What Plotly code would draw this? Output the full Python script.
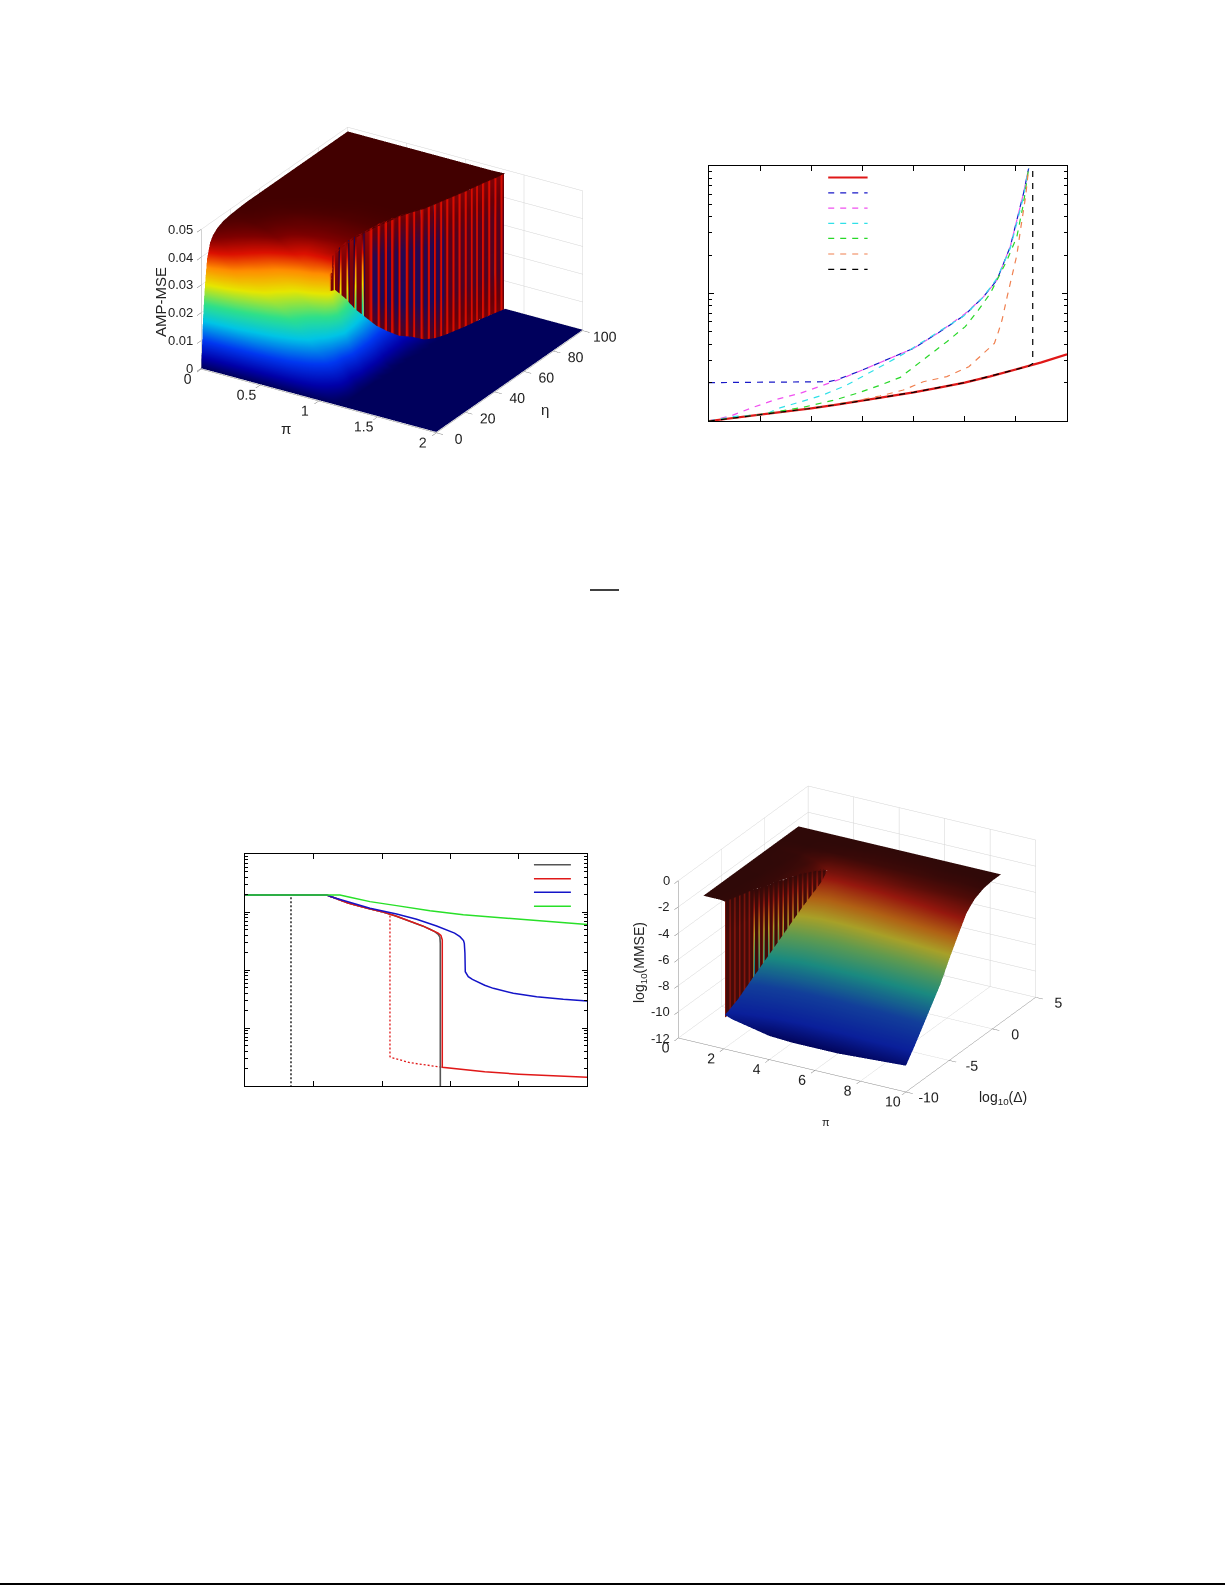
import numpy as np
import plotly.graph_objects as go

# ---------- top-left surface: AMP-MSE (values in units of 0.001) ----------
amp_eta = [0, .5, 1, 2, 3, 4, 6, 8, 11, 15, 20, 24, 28, 32, 36, 40, 45, 50, 55, 60, 65, 70, 75, 80, 85, 90, 95, 100]
# pi of the seam between the high and the low sheet, for each eta (the wall sits on it from eta = 20)
amp_seam_pi = [.84, .84, .84, .84, .84, .84, .84, .84, .84, .84, .84, .84, .875, .91, .95, .99, 1.03, 1.06, 1.105, 1.15,
               1.175, 1.2, 1.225, 1.25, 1.27, 1.29, 1.315, 1.34]
# high sheet: columns at these fractions of the seam pi
amp_high_frac = [0, .12, .24, .36, .48, .6, .72, .84, .92, 1]
amp_high_milli = [
    [0, 0, 0, 0, 0, 0, 0, 0, 0, 0],
    [7, 6, 5.2, 4.6, 4, 3.5, 3, 2.5, 2.1, 1.7],
    [15, 13, 11, 9.5, 8.3, 7, 6, 5, 4.2, 3.5],
    [25, 21, 18, 16, 14, 12, 10, 8.5, 7, 5.9],
    [32, 27, 23, 20, 17, 15, 13, 11, 9.2, 7.8],
    [38, 33, 28, 24, 21, 18, 15.5, 13, 11, 9.4],
    [43, 39, 35, 30, 26.5, 23.5, 20, 17, 14.8, 12.6],
    [45, 42, 38, 33, 30, 27, 24.5, 21, 18, 15.6],
    [46.5, 44, 41, 37, 33, 29, 26, 23, 20, 17.6],
    [47.5, 46, 44, 41, 37, 33, 29, 26, 24, 21.6],
    [48, 47.5, 47, 46, 44, 41, 38, 36, 33, 30],
    [48.2, 48, 47.5, 46.5, 45, 43, 41, 41, 41.5, 42],
    [48.4, 48.2, 47.8, 47, 46, 45, 44, 43.5, 43.5, 44],
    [48.5, 48.3, 48, 47.5, 46.5, 46, 45.5, 45.5, 45.5, 45.5],
    [48.5, 48.4, 48.2, 48, 47.5, 47, 46.5, 46.5, 46.5, 46.5],
    [48.5, 48.5, 48.4, 48.2, 48, 47.8, 47.5, 47.5, 47.5, 47.5],
    [48.5, 48.5, 48.5, 48.4, 48.3, 48.2, 48, 48, 48, 48],
    [48.5, 48.5, 48.5, 48.5, 48.5, 48.4, 48.3, 48.3, 48.3, 48.3],
    [48.5, 48.5, 48.5, 48.5, 48.5, 48.5, 48.5, 48.5, 48.5, 48.5],
    [48.5, 48.5, 48.5, 48.5, 48.5, 48.5, 48.5, 48.5, 48.5, 48.5],
    [48.5, 48.5, 48.5, 48.5, 48.5, 48.5, 48.5, 48.5, 48.5, 48.5],
    [48.5, 48.5, 48.5, 48.5, 48.5, 48.5, 48.5, 48.5, 48.5, 48.5],
    [48.5, 48.5, 48.5, 48.5, 48.5, 48.5, 48.5, 48.5, 48.5, 48.5],
    [48.5, 48.5, 48.5, 48.5, 48.5, 48.5, 48.5, 48.5, 48.5, 48.5],
    [48.5, 48.5, 48.5, 48.5, 48.5, 48.5, 48.5, 48.5, 48.5, 48.5],
    [48.5, 48.5, 48.5, 48.5, 48.5, 48.5, 48.5, 48.5, 48.5, 48.5],
    [48.5, 48.5, 48.5, 48.5, 48.5, 48.5, 48.5, 48.5, 48.5, 48.5],
    [48.5, 48.5, 48.5, 48.5, 48.5, 48.5, 48.5, 48.5, 48.5, 48.7],
]
# low sheet: columns at these offsets past the seam; the last one reaches pi = 2
amp_low_offset = [0, .05, .1, .15, .2, .25, .3, .35]
amp_low_milli = [
    [0, 0, 0, 0, 0, 0, 0, 0, 0],
    [1.7, 1.3, 1, .7, .4, .2, 0, 0, 0],
    [3.5, 2.8, 2.2, 1.6, 1, .5, .1, 0, 0],
    [5.9, 4.9, 3.9, 2.9, 1.9, 1, .3, 0, 0],
    [7.8, 6.5, 5.2, 3.9, 2.6, 1.4, .4, 0, 0],
    [9.4, 8, 6.5, 4.9, 3.3, 1.9, .5, 0, 0],
    [12.6, 10.9, 8.9, 6.9, 4.9, 2.9, 1, 0, 0],
    [15.6, 13.4, 11.4, 9, 6.5, 4, 1.5, 0, 0],
    [17.6, 15.5, 13, 10.6, 7.6, 4.6, 1.8, 0, 0],
    [21.6, 19.4, 15.8, 11.8, 7.8, 4.2, 1.4, 0, 0],
    [30, 25, 20, 15, 10, 5.8, 2, 0, 0],
    [29, 24.5, 19.5, 14.5, 10, 5.5, 2, 0, 0],
    [25, 20, 15.5, 11, 7, 3, .3, 0, 0],
    [20, 16, 12, 8, 4, .8, 0, 0, 0],
    [16, 12, 8, 4, .8, 0, 0, 0, 0],
    [12, 8, 4.5, 1.5, 0, 0, 0, 0, 0],
    [8.5, 5, 2, 0, 0, 0, 0, 0, 0],
    [5.5, 3, .8, 0, 0, 0, 0, 0, 0],
    [3.8, 1.2, 0, 0, 0, 0, 0, 0, 0],
    [1.5, 0, 0, 0, 0, 0, 0, 0, 0],
    [.4, 0, 0, 0, 0, 0, 0, 0, 0],
    [0, 0, 0, 0, 0, 0, 0, 0, 0],
    [0, 0, 0, 0, 0, 0, 0, 0, 0],
    [0, 0, 0, 0, 0, 0, 0, 0, 0],
    [0, 0, 0, 0, 0, 0, 0, 0, 0],
    [0, 0, 0, 0, 0, 0, 0, 0, 0],
    [0, 0, 0, 0, 0, 0, 0, 0, 0],
    [0, 0, 0, 0, 0, 0, 0, 0, 0],
]
# the discontinuity ("wall") of the AMP-MSE surface, read along its length
amp_wall_eta = [20, 22, 24, 26, 28, 30, 32, 34, 36, 38, 40, 42, 44, 46, 48, 50, 52, 54, 56, 58, 60, 62, 64, 66, 68, 70,
                72, 74, 76, 78, 80, 82, 84, 86, 88, 90, 92, 94, 96, 98]
amp_wall_pi = [.84, .84, .84, .857, .875, .893, .91, .93, .95, .97, .99, 1.005, 1.02, 1.03, 1.05, 1.06, 1.08, 1.1, 1.11, 1.13, 1.15,
               1.16, 1.17, 1.18, 1.19, 1.2, 1.21, 1.22, 1.23, 1.24, 1.25, 1.26, 1.265, 1.27, 1.28, 1.29, 1.3, 1.31, 1.32, 1.33]
amp_wall_foot = [30, 29.5, 29, 27, 25, 22.5, 20, 18, 16, 14, 12, 11, 9.5, 8.5, 7, 5.5, 5, 4, 3.5, 2, 1.5, 1, .5, .2, 0, 0,
                 0, 0, 0, 0, 0, 0, 0, 0, 0, 0, 0, 0, 0, 0]
amp_wall_top = [36, 42, 43, 44, 45, 45.5, 46, 46.5, 47, 47.5, 48, 48.2, 48.2, 48.3, 48.4, 48.5, 48.5, 48.5, 48.5, 48.5, 48.5,
                48.5, 48.5, 48.5, 48.5, 48.5, 48.5, 48.5, 48.5, 48.5, 48.5, 48.5, 48.5, 48.5, 48.5, 48.5, 48.5, 48.5, 48.5, 48.7]

# ---------- bottom-right surface: log10(MMSE) ----------
mmse_logdelta = [-10, -9, -8, -7, -6, -5, -4, -3, -2.5, -2, -1, 0, 1]
mmse_seam_pi = [2.05, 2.24, 2.42, 2.61, 2.8, 2.98, 3.17, 3.36, 3.45, 3.5, 3.5, 3.5, 3.5]
mmse_pi_start = 1.1
mmse_high_frac = [0, .5, .8, 1]
mmse_high = [
    [-.7, -.7, -.7, -.75],
    [-.7, -.7, -.72, -.75],
    [-.7, -.7, -.72, -.75],
    [-.7, -.7, -.75, -.8],
    [-.7, -.7, -.78, -.85],
    [-.7, -.72, -.8, -.95],
    [-.7, -.72, -.85, -1.05],
    [-.7, -.75, -.9, -1.25],
    [-.7, -.75, -1, -1.45],
    [-.7, -.8, -1.1, -1.6],
    [-.7, -.7, -.75, -.8],
    [-.7, -.7, -.7, -.7],
    [-.7, -.7, -.7, -.7],
]
# low sheet columns: seam, seam + 0.3, then these fixed pi values
mmse_low_pi = [4, 5, 6, 7, 8, 9, 10]
mmse_low = [
    [-9.4, -9.6, -10.2, -10.3, -10.3, -10.3, -10.2, -10.1, -10],
    [-8.6, -8.75, -9.1, -9.2, -9.2, -9.2, -9.1, -9.1, -9],
    [-7.6, -7.8, -8.1, -8.2, -8.2, -8.1, -8.1, -8, -7.9],
    [-6.6, -6.75, -7, -7.1, -7.1, -7.1, -7, -6.9, -6.8],
    [-5.6, -5.75, -6, -6, -6, -6, -5.9, -5.8, -5.7],
    [-4.6, -4.75, -4.9, -5, -4.9, -4.8, -4.7, -4.5, -4.3],
    [-3.6, -3.75, -3.9, -3.9, -3.8, -3.6, -3.4, -3.2, -3],
    [-2.7, -2.8, -2.9, -2.8, -2.7, -2.5, -2.3, -2, -1.75],
    [-2.25, -2.35, -2.4, -2.3, -2.2, -2, -1.8, -1.6, -1.4],
    [-1.6, -1.65, -1.7, -1.7, -1.6, -1.4, -1.3, -1.2, -1.1],
    [-.8, -.82, -.85, -.9, -.9, -.9, -.85, -.85, -.8],
    [-.7, -.7, -.72, -.75, -.75, -.75, -.72, -.72, -.7],
    [-.7, -.7, -.7, -.7, -.7, -.7, -.7, -.7, -.7],
]
mmse_wall_logdelta = [-10, -9.75, -9.5, -9.25, -9, -8.75, -8.5, -8.25, -8, -7.75, -7.5, -7.25, -7, -6.75, -6.5, -6.25, -6,
                      -5.75, -5.5, -5.25, -5, -4.75, -4.5, -4.25, -4, -3.75, -3.5, -3.25, -3, -2.75, -2.5, -2.25]
mmse_wall_pi = [2.05, 2.1, 2.14, 2.19, 2.24, 2.28, 2.33, 2.38, 2.42, 2.47, 2.52, 2.56, 2.61, 2.66, 2.7, 2.75, 2.8, 2.84, 2.89,
                2.94, 2.98, 3.03, 3.08, 3.13, 3.17, 3.22, 3.27, 3.31, 3.36, 3.41, 3.45, 3.48]
mmse_wall_foot = [-9.4, -9.2, -9, -8.8, -8.6, -8.35, -8.1, -7.85, -7.6, -7.35, -7.1, -6.85, -6.6, -6.35, -6.1, -5.85, -5.6,
                  -5.35, -5.1, -4.85, -4.6, -4.35, -4.1, -3.85, -3.6, -3.35, -3.1, -2.9, -2.7, -2.5, -2.25, -1.95]
mmse_wall_top = [-.75, -.75, -.75, -.75, -.75, -.75, -.75, -.75, -.75, -.78, -.8, -.8, -.8, -.82, -.85, -.85, -.85, -.9, -.95,
                 -.95, -.95, -1, -1, -1, -1.05, -1.1, -1.15, -1.2, -1.25, -1.35, -1.45, -1.52]

# ---------- top-right panel curves (x, log10 y) ----------
tr_red_x = [0, .5, 1, 1.5, 2, 2.5, 3, 3.5, 4, 4.5, 5, 5.5, 6, 6.5, 7]
tr_red_y = [-2, -1.975, -1.953, -1.927, -1.901, -1.872, -1.841, -1.809, -1.775, -1.738, -1.699, -1.65, -1.595, -1.54, -1.477]
tr_blue_x = [0, 2.33, 2.49, 3, 3.54, 4, 4.52, 5, 5.37, 5.63, 5.89, 6.15, 6.25]
tr_blue_y = [-1.699, -1.692, -1.678, -1.6, -1.508, -1.43, -1.299, -1.169, -1.025, -.894, -.633, -.214, -.018]
tr_mag_x = [0, .44, .86, 1.32, 1.78, 2.23, 2.56, 3, 3.54, 4, 4.52, 5, 5.37, 5.63, 5.89, 6.15, 6.25]
tr_mag_y = [-2, -1.958, -1.893, -1.83, -1.783, -1.718, -1.673, -1.6, -1.508, -1.43, -1.299, -1.161, -1.025, -.894, -.633, -.214, -.018]
tr_cyan_x = [0, .47, 1.12, 1.35, 1.58, 2, 2.23, 2.43, 2.66, 3.02, 3.47, 3.8, 4.13, 4.59, 4.98, 5.37, 5.63, 5.89, 6.15, 6.25]
tr_cyan_y = [-2, -1.966, -1.945, -1.901, -1.875, -1.822, -1.796, -1.762, -1.725, -1.647, -1.548, -1.475, -1.391, -1.273, -1.176, -1.025, -.881, -.646, -.241, -.018]
tr_green_x = [0, .93, 1.81, 2.04, 2.46, 2.89, 3.31, 3.74, 4.19, 4.65, 5.01, 5.27, 5.5, 5.83, 6.02, 6.15, 6.25]
tr_green_y = [-2, -1.953, -1.895, -1.875, -1.835, -1.783, -1.725, -1.658, -1.522, -1.378, -1.26, -1.129, -.999, -.737, -.554, -.293, -.018]
tr_orange_x = [0, 1, 2, 2.89, 3.34, 3.8, 4.19, 4.65, 5.08, 5.24, 5.4, 5.58, 5.66, 5.73, 5.83, 5.92, 6.02, 6.09, 6.19, 6.25]
tr_orange_y = [-2, -1.953, -1.901, -1.841, -1.804, -1.757, -1.692, -1.652, -1.574, -1.516, -1.456, -1.391, -1.299, -1.208, -1.025, -.868, -.698, -.502, -.241, -.018]
tr_black_x = [0, 1, 2, 3, 4, 5, 6, 6.26, 6.33, 6.33]
tr_black_y = [-2, -1.953, -1.901, -1.841, -1.775, -1.699, -1.595, -1.569, -1.548, -.018]

# ---------- bottom-left panel curves (x, log10 y) ----------
bl_black_x = [0, 1.189, 1.3, 1.5, 1.8, 2, 2.2, 2.4, 2.6, 2.7, 2.77, 2.82, 2.845, 2.851, 2.851]
bl_black_y = [-.702, -.702, -.75, -.84, -.935, -.99, -1.065, -1.15, -1.24, -1.295, -1.335, -1.38, -1.43, -1.537, -4]
bl_black_dash_x = [0, .668, .668]
bl_black_dash_y = [-.702, -.702, -4]
bl_red_x = [0, 1.189, 1.3, 1.5, 1.8, 2, 2.2, 2.4, 2.6, 2.7, 2.77, 2.82, 2.86, 2.88, 2.88, 3.1, 3.5, 4, 4.5, 5]
bl_red_y = [-.702, -.702, -.75, -.84, -.935, -.99, -1.065, -1.15, -1.24, -1.295, -1.335, -1.36, -1.4, -1.479, -3.678, -3.71, -3.755, -3.795, -3.825, -3.85]
bl_red_dash_x = [1.238, 1.5, 1.8, 2.115, 2.115, 2.125, 2.407, 2.7, 2.88]
bl_red_dash_y = [-.731, -.84, -.935, -1.03, -3.494, -3.505, -3.597, -3.655, -3.678]
bl_blue_x = [0, 1.189, 1.3, 1.481, 1.823, 2.212, 2.505, 2.797, 2.992, 3.06, 3.138, 3.19, 3.202, 3.211, 3.216, 3.235, 3.26, 3.32, 3.382, 3.5, 3.626, 3.918, 4.259, 4.649, 5]
bl_blue_y = [-.702, -.702, -.75, -.817, -.932, -1.03, -1.122, -1.237, -1.318, -1.36, -1.422, -1.49, -1.537, -1.709, -2.026, -2.075, -2.112, -2.16, -2.199, -2.26, -2.314, -2.4, -2.458, -2.504, -2.532]
bl_green_x = [0, 1.384, 1.53, 1.823, 2.212, 2.7, 3.187, 3.674, 4.162, 4.649, 5]
bl_green_y = [-.702, -.702, -.742, -.817, -.886, -.973, -1.042, -1.088, -1.14, -1.186, -1.214]

# tick labels of the two 3-D panels
amp_pi_ticks = [0, .5, 1, 1.5, 2]
amp_eta_ticks = [0, 20, 40, 60, 80, 100]
amp_z_ticks = [0, .01, .02, .03, .04, .05]
amp_z_labels = ["0", "0.01", "0.02", "0.03", "0.04", "0.05"]
mmse_pi_ticks = [0, 2, 4, 6, 8, 10]
mmse_delta_ticks = [-10, -5, 0, 5]
mmse_delta_labels = ["-10", "-5", "0", "5"]
mmse_z_ticks = [-12, -10, -8, -6, -4, -2, 0]
mmse_z_labels = ["-12", "-10", "-8", "-6", "-4", "-2", "0"]

FONT = "Liberation Sans"
W, H = 1225, 1585

JET_AMP = [[0, "#00005c"], [.08, "#0000a8"], [.2, "#0038f0"], [.34, "#00c4e6"], [.46, "#2fe08a"],
           [.6, "#e6e600"], [.72, "#ff8c00"], [.82, "#dc1000"], [.91, "#7d0000"], [1, "#400000"]]
JET_MMSE = [[0, "#000050"], [.12, "#0a1f9a"], [.27, "#123f9a"], [.42, "#1a8a80"], [.55, "#5f9a50"],
            [.65, "#a8a028"], [.75, "#b06014"], [.85, "#96180e"], [.94, "#520c08"], [1, "#2a0808"]]
# wall colours: the lower half of the scale repeats the surface colours, the upper half runs navy -> dark red -> red
WALL_AMP = [[s[0] * .49, s[1]] for s in JET_AMP] + [[.5, "#0a0a70"], [.75, "#680008"], [1, "#d80c00"]]
NOLIGHT = dict(ambient=1, diffuse=0, specular=0, roughness=1, fresnel=0)
AMP_TOP = .0487


def dom_x(a, b):
    return [a / W, b / W]


def dom_y(top, bottom):
    return [1 - bottom / H, 1 - top / H]


def axis3d(ticks, rng, labels=None, size=13, ticklen=3, show_labels=True):
    a = dict(title=dict(text=""), range=rng, tickvals=ticks, tickfont=dict(family=FONT, size=size, color="#222"),
             tickangle=0, showbackground=False, showgrid=True, gridcolor="#d4d4d4", gridwidth=1,
             showline=True, linecolor="#888", linewidth=1, ticks="outside", ticklen=ticklen,
             tickcolor="#666", zeroline=False, showspikes=False, showticklabels=show_labels)
    if labels:
        a["ticktext"] = labels
    return a


def wall(y_vals, pi_vals, foot, top, step, overscan, floor, colors):
    """Striped flat-shaded wall: each sample gives two facets, each facet two columns of one colour."""
    ys, xs, zs, cs = [], [], [], []
    for i in range(len(y_vals)):
        low = max(foot[i] - overscan, floor)
        for k in (0, 1):
            start = y_vals[i] + step * k / 2
            for off in (0, step / 2 * .97):
                ys.append(start + off)
                xs.append(pi_vals[i])
                zs.append([low + (top[i] - low) * f for f in (0, .3, .7, 1)])
                cs.append(colors(i, 2 * i + k))
    return (np.array(xs)[None, :].repeat(4, 0), np.array(ys)[None, :].repeat(4, 0),
            np.array(zs).T, np.array(cs).T)


def amp_wall_colors(i, facet):
    eta = amp_wall_eta[i]
    f = amp_wall_foot[i] / 1000
    t = amp_wall_top[i] / 1000
    jet = lambda z: z / AMP_TOP * .49
    stripe = facet % 3 == 0
    if eta < 38:
        if stripe:
            return [jet(f), jet(f + (t - f) * .3), jet(f + (t - f) * .7), jet(t)]
        return [.78, .78, .8, .85]
    if stripe:
        return [1, 1, 1, 1]
    if eta < 70:
        return [.72, .55, .58, .78]
    return [.78, .68, .7, .8]


def mmse_wall_colors(i, facet):
    f, t = mmse_wall_foot[i], mmse_wall_top[i]
    if facet % 3:
        return [-1, -1, -1, -.8]
    if i < 8:
        return [-1.9, -1.9, -1.9, -1.6]
    return [f, f + (t - f) * .3, f + (t - f) * .7, t]


fig = go.Figure()

# AMP-MSE sheets, each bounded by the seam
seam = np.array(amp_seam_pi)
amp_y = np.array(amp_eta, dtype=float)
high_x = np.outer(seam, amp_high_frac)
high_y = np.repeat(amp_y[:, None], len(amp_high_frac), axis=1)
low_x = np.column_stack([seam + o for o in amp_low_offset] + [np.full(len(seam), 2.0)])
low_y = np.repeat(amp_y[:, None], len(amp_low_offset) + 1, axis=1)
for sx, sy, sz in ((low_x, low_y, amp_low_milli), (high_x, high_y, amp_high_milli)):
    fig.add_trace(go.Surface(x=sx, y=sy, z=np.array(sz) / 1000, colorscale=JET_AMP, cmin=0, cmax=AMP_TOP,
                             showscale=False, lighting=NOLIGHT, scene="scene", hoverinfo="skip"))
wx, wy, wz, wc = wall(amp_wall_eta, amp_wall_pi, np.array(amp_wall_foot) / 1000, np.array(amp_wall_top) / 1000,
                      2, .002, -.00025, amp_wall_colors)
fig.add_trace(go.Surface(x=wx, y=wy, z=wz, surfacecolor=wc, colorscale=WALL_AMP, cmin=0, cmax=1, showscale=False,
                         lighting=NOLIGHT, scene="scene", hoverinfo="skip"))

# MMSE sheets
seam2 = np.array(mmse_seam_pi)
mm_y = np.array(mmse_logdelta, dtype=float)
high2_x = np.column_stack([mmse_pi_start + (seam2 - mmse_pi_start) * f for f in mmse_high_frac])
high2_y = np.repeat(mm_y[:, None], len(mmse_high_frac), axis=1)
low2_x = np.column_stack([seam2, seam2 + .3] + [np.full(len(seam2), float(p)) for p in mmse_low_pi])
low2_y = np.repeat(mm_y[:, None], 2 + len(mmse_low_pi), axis=1)
for sx, sy, sz in ((low2_x, low2_y, mmse_low), (high2_x, high2_y, mmse_high)):
    fig.add_trace(go.Surface(x=sx, y=sy, z=sz, colorscale=JET_MMSE, cmin=-10.5, cmax=-.6, showscale=False,
                             lighting=NOLIGHT, scene="scene2", hoverinfo="skip"))
wx, wy, wz, wc = wall(mmse_wall_logdelta, mmse_wall_pi, mmse_wall_foot, mmse_wall_top, .25, .2, -12, mmse_wall_colors)
fig.add_trace(go.Surface(x=wx, y=wy, z=wz, surfacecolor=wc, colorscale=JET_MMSE, cmin=-10.5, cmax=-.6, showscale=False,
                         lighting=NOLIGHT, scene="scene2", hoverinfo="skip"))


def curve(x, logy, color, dash, width, axes):
    fig.add_trace(go.Scatter(x=x, y=np.power(10.0, logy), mode="lines", xaxis=axes[0], yaxis=axes[1],
                             line=dict(color=color, dash=dash, width=width), showlegend=False, hoverinfo="skip"))


DASH = "6px,6px"
tr_axes = ("x", "y")
bl_axes = ("x2", "y2")
TR_SERIES = [(tr_red_x, tr_red_y, "#e01818", "solid", 2.2), (tr_blue_x, tr_blue_y, "#1818c8", DASH, 1.2),
             (tr_mag_x, tr_mag_y, "#f050f0", DASH, 1.2), (tr_cyan_x, tr_cyan_y, "#30e0e8", DASH, 1.2),
             (tr_green_x, tr_green_y, "#28d828", DASH, 1.2), (tr_orange_x, tr_orange_y, "#f08050", DASH, 1.2),
             (tr_black_x, tr_black_y, "#000000", DASH, 1.2)]
for sx, sy, c, d, w_ in TR_SERIES:
    curve(sx, sy, c, d, w_, tr_axes)

curve(bl_black_dash_x, bl_black_dash_y, "#333333", "2px,2px", 1.6, bl_axes)
curve(bl_red_dash_x, bl_red_dash_y, "#e01818", "2px,2px", 1.3, bl_axes)
curve(bl_black_x, bl_black_y, "#555555", "solid", 1.6, bl_axes)
curve(bl_red_x, bl_red_y, "#e01818", "solid", 1.5, bl_axes)
curve(bl_blue_x, bl_blue_y, "#1414c8", "solid", 1.5, bl_axes)
curve(bl_green_x, bl_green_y, "#28e028", "solid", 1.5, bl_axes)


def axis2d(rng, dtick, dom, anchor, log=False):
    a = dict(range=rng, domain=dom, anchor=anchor, showline=True, linecolor="#000", linewidth=1.2, mirror="allticks",
             ticks="inside", ticklen=5, tickcolor="#000", showgrid=False, zeroline=False, showticklabels=False,
             dtick=dtick)
    if log:
        a.update(type="log", minor=dict(ticks="inside", ticklen=3, dtick="D1", tickcolor="#000", showgrid=False))
    return a


def swatches(xref, yref, x0, x1, rows):
    return [dict(type="line", xref=xref, yref=yref, x0=x0, x1=x1, y0=r[0], y1=r[0],
                 line=dict(color=r[1], dash=r[2], width=r[3])) for r in rows]


tr_key = [(.955, "#e01818", "solid", 2.2), (.895, "#1818c8", DASH, 1.2), (.835, "#f050f0", DASH, 1.2),
          (.775, "#30e0e8", DASH, 1.2), (.716, "#28d828", DASH, 1.2), (.655, "#f08050", DASH, 1.2),
          (.595, "#000000", DASH, 1.2)]
bl_key = [(.955, "#555555", "solid", 1.6), (.895, "#e01818", "solid", 1.5), (.836, "#1414c8", "solid", 1.5),
          (.776, "#28e028", "solid", 1.5)]

shapes = swatches("x domain", "y domain", .333, .443, tr_key)
shapes += swatches("x2 domain", "y2 domain", .844, .952, bl_key)
# horizontal rules printed on the page
shapes.append(dict(type="line", xref="paper", yref="paper", x0=590 / W, x1=619 / W, y0=1 - 590 / H, y1=1 - 590 / H,
                   line=dict(color="#000", width=1.5)))
shapes.append(dict(type="line", xref="paper", yref="paper", x0=0, x1=1, y0=1 - 1584 / H, y1=1 - 1584 / H,
                   line=dict(color="#000", width=2)))


def label(text, px, py, size, angle=0):
    return dict(text=text, xref="paper", yref="paper", x=px / W, y=1 - py / H, showarrow=False, textangle=angle,
                xanchor="center", yanchor="middle", font=dict(family=FONT, size=size, color="#222"))


annotations = [
    label("AMP-MSE", 160, 302, 15, -90),
    label("π", 286, 428, 15),
    label("η", 545, 410, 15),
    label("log<sub>10</sub>(MMSE)", 640, 963, 14, -90),
    label("log<sub>10</sub>(Δ)", 1003, 1098, 14),
    label("π", 826, 1122, 11),
]


def z_tick_labels(x0, y0, ticks, texts, shift):
    return [dict(x=x0, y=y0, z=t, text=s, showarrow=False, xanchor="right", yanchor="middle", xshift=shift,
                 font=dict(family=FONT, size=13, color="#222")) for t, s in zip(ticks, texts)]


fig.update_layout(
    width=W, height=H, autosize=False, margin=dict(l=0, r=0, t=0, b=0), paper_bgcolor="white", plot_bgcolor="white",
    font=dict(family=FONT), showlegend=False, shapes=shapes, annotations=annotations,
    xaxis=axis2d([0, 7], 1, dom_x(709, 1067), "y"),
    yaxis=axis2d([-2, 0], 1, dom_y(166, 421), "x", log=True),
    xaxis2=axis2d([0, 5], 1, dom_x(245.3, 587.3), "y2"),
    yaxis2=axis2d([-4, 0], 1, dom_y(854.3, 1086), "x2", log=True),
    scene=dict(
        domain=dict(x=dom_x(142, 642), y=dom_y(80, 480)),
        aspectmode="manual", aspectratio=dict(x=1.385, y=1.385, z=.776),
        camera=dict(projection=dict(type="orthographic"), eye=dict(x=1.19, y=-1.91, z=1.086),
                    up=dict(x=0, y=0, z=1), center=dict(x=0, y=0, z=0)),
        xaxis=axis3d(amp_pi_ticks, [0, 2], ticklen=8),
        yaxis=axis3d(amp_eta_ticks, [0, 100], ticklen=8),
        zaxis=axis3d(amp_z_ticks, [-.0003, .05], ticklen=3, show_labels=False),
        annotations=z_tick_labels(0, 0, amp_z_ticks, amp_z_labels, -6),
    ),
    scene2=dict(
        domain=dict(x=dom_x(607, 1107), y=dom_y(739, 1139)),
        aspectmode="manual", aspectratio=dict(x=1.31, y=1.31, z=.865),
        camera=dict(projection=dict(type="orthographic"), eye=dict(x=1.30, y=-2.28, z=1.2),
                    up=dict(x=0, y=0, z=1), center=dict(x=0, y=0, z=0)),
        xaxis=axis3d(mmse_pi_ticks, [0, 10], ticklen=8),
        yaxis=axis3d(mmse_delta_ticks, [-10, 5], mmse_delta_labels, ticklen=8),
        zaxis=axis3d(mmse_z_ticks, [-12, 0], ticklen=3, show_labels=False),
        annotations=z_tick_labels(0, -10, mmse_z_ticks, mmse_z_labels, -6),
    ),
)

fig.write_html("out.html", config=dict(displayModeBar=False), post_script="document.body.style.margin='0';")
